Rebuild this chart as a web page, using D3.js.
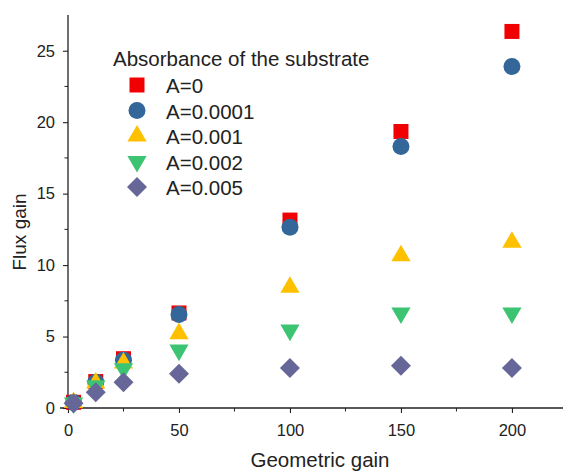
<!DOCTYPE html>
<html>
<head>
<meta charset="utf-8">
<script src="https://cdn.jsdelivr.net/npm/d3@7"></script>
<style>
  body { margin: 0; background: #fff; }
  text { font-family: "Liberation Sans", Arial, sans-serif; }
</style>
</head>
<body>
<svg id="chart" width="564" height="472"></svg>
<script>
// data
var gains = [2.5, 12.5, 25, 50, 100, 150, 200];
var labels = ["A=0", "A=0.0001", "A=0.001", "A=0.002", "A=0.005"];
var a0     = [0.4, 1.85, 3.45, 6.65, 13.15, 19.35, 26.35];
var a0001  = [0.38, 1.8, 3.35, 6.55, 12.65, 18.3, 23.9];
var a001   = [0.38, 1.75, 3.15, 5.2, 8.45, 10.65, 11.6];
var a002   = [0.35, 1.55, 2.75, 4.05, 5.45, 6.65, 6.65];
var a005   = [0.33, 1.1, 1.8, 2.4, 2.8, 2.95, 2.8];
var xTicks = [0, 50, 100, 150, 200];
var yTicks = [0, 5, 10, 15, 20, 25];

var colors = ["#f00000", "#336699", "#ffc000", "#3dc472", "#666699"];

var series = [a0, a0001, a001, a002, a005].map(function(vals, i) {
  return { label: labels[i], color: colors[i], values: vals };
});

var svg = d3.select("#chart");

var x = d3.scaleLinear().domain([-3.6, 223]).range([60, 563]);
var y = d3.scaleLinear().domain([0, 27.5]).range([408, 15]);

// marker shapes, roughly like the Origin ones
var shapes = [
  { type: d3.symbolSquare, size: 225, rot: 0 },
  { type: d3.symbolCircle, size: 227, rot: 0 },
  { type: d3.symbolTriangle, size: 160, rot: 0 },
  { type: d3.symbolTriangle, size: 160, rot: 180 },
  { type: d3.symbolSquare, size: 200, rot: 45 }
];

// axes
var xAxis = d3.axisBottom(x).tickValues(xTicks).tickSize(5).tickPadding(11);
var yAxis = d3.axisLeft(y).tickValues(yTicks).tickSize(5).tickPadding(8);

var gx = svg.append("g").attr("transform", "translate(0," + y(0) + ")").call(xAxis);
var gy = svg.append("g").attr("transform", "translate(" + x(0) + ",0)").call(yAxis);

[gx, gy].forEach(function(g) {
  g.select(".domain").attr("stroke", "#222").attr("stroke-width", 1.3);
  g.selectAll(".tick line").attr("stroke", "#222").attr("stroke-width", 1.1);
  g.selectAll(".tick text").attr("font-size", 16.5).attr("fill", "#222")
    .attr("font-family", "'Liberation Sans', Arial, sans-serif");
});
// plain domain lines, no end caps
gx.select(".domain").attr("d", "M" + x.range()[0] + ",0H" + x.range()[1]);
gy.select(".domain").attr("d", "M0," + y.range()[1] + "V" + (y(0) + 2));

// minor ticks
var xMinor = [25, 75, 125, 175];
var yMinor = [2.5, 7.5, 12.5, 17.5, 22.5];
gx.selectAll(".minor").data(xMinor).enter().append("line")
  .attr("x1", function(d) { return x(d); }).attr("x2", function(d) { return x(d); })
  .attr("y1", 0).attr("y2", 3.5).attr("stroke", "#222");
gy.selectAll(".minor").data(yMinor).enter().append("line")
  .attr("y1", function(d) { return y(d); }).attr("y2", function(d) { return y(d); })
  .attr("x1", 0).attr("x2", -3.5).attr("stroke", "#222");

// axis titles
svg.append("text").attr("x", 320).attr("y", 467).attr("text-anchor", "middle")
  .attr("font-size", 20.5).attr("fill", "#222").text("Geometric gain");
svg.append("text").attr("transform", "translate(26,232) rotate(-90)")
  .attr("text-anchor", "middle").attr("font-size", 19).attr("fill", "#222").text("Flux gain");

// points
series.forEach(function(s, i) {
  var sym = d3.symbol().type(shapes[i].type).size(shapes[i].size);
  svg.append("g").selectAll("path").data(s.values).enter().append("path")
    .attr("d", sym)
    .attr("fill", s.color)
    .attr("transform", function(d, j) {
      return "translate(" + x(gains[j]) + "," + y(d) + ") rotate(" + shapes[i].rot + ")";
    });
});

// legend
var lg = svg.append("g");
lg.append("text").attr("x", 113).attr("y", 66).attr("font-size", 20.5).attr("fill", "#222")
  .text("Absorbance of the substrate");
series.forEach(function(s, i) {
  var yy = 85 + i * 25.5;
  lg.append("path")
    .attr("d", d3.symbol().type(shapes[i].type).size(shapes[i].size)())
    .attr("fill", s.color)
    .attr("transform", "translate(137," + yy + ") rotate(" + shapes[i].rot + ")");
  lg.append("text").attr("x", 166).attr("y", yy + 8).attr("font-size", 20.5).attr("fill", "#222")
    .text(s.label);
});
</script>
</body>
</html>
